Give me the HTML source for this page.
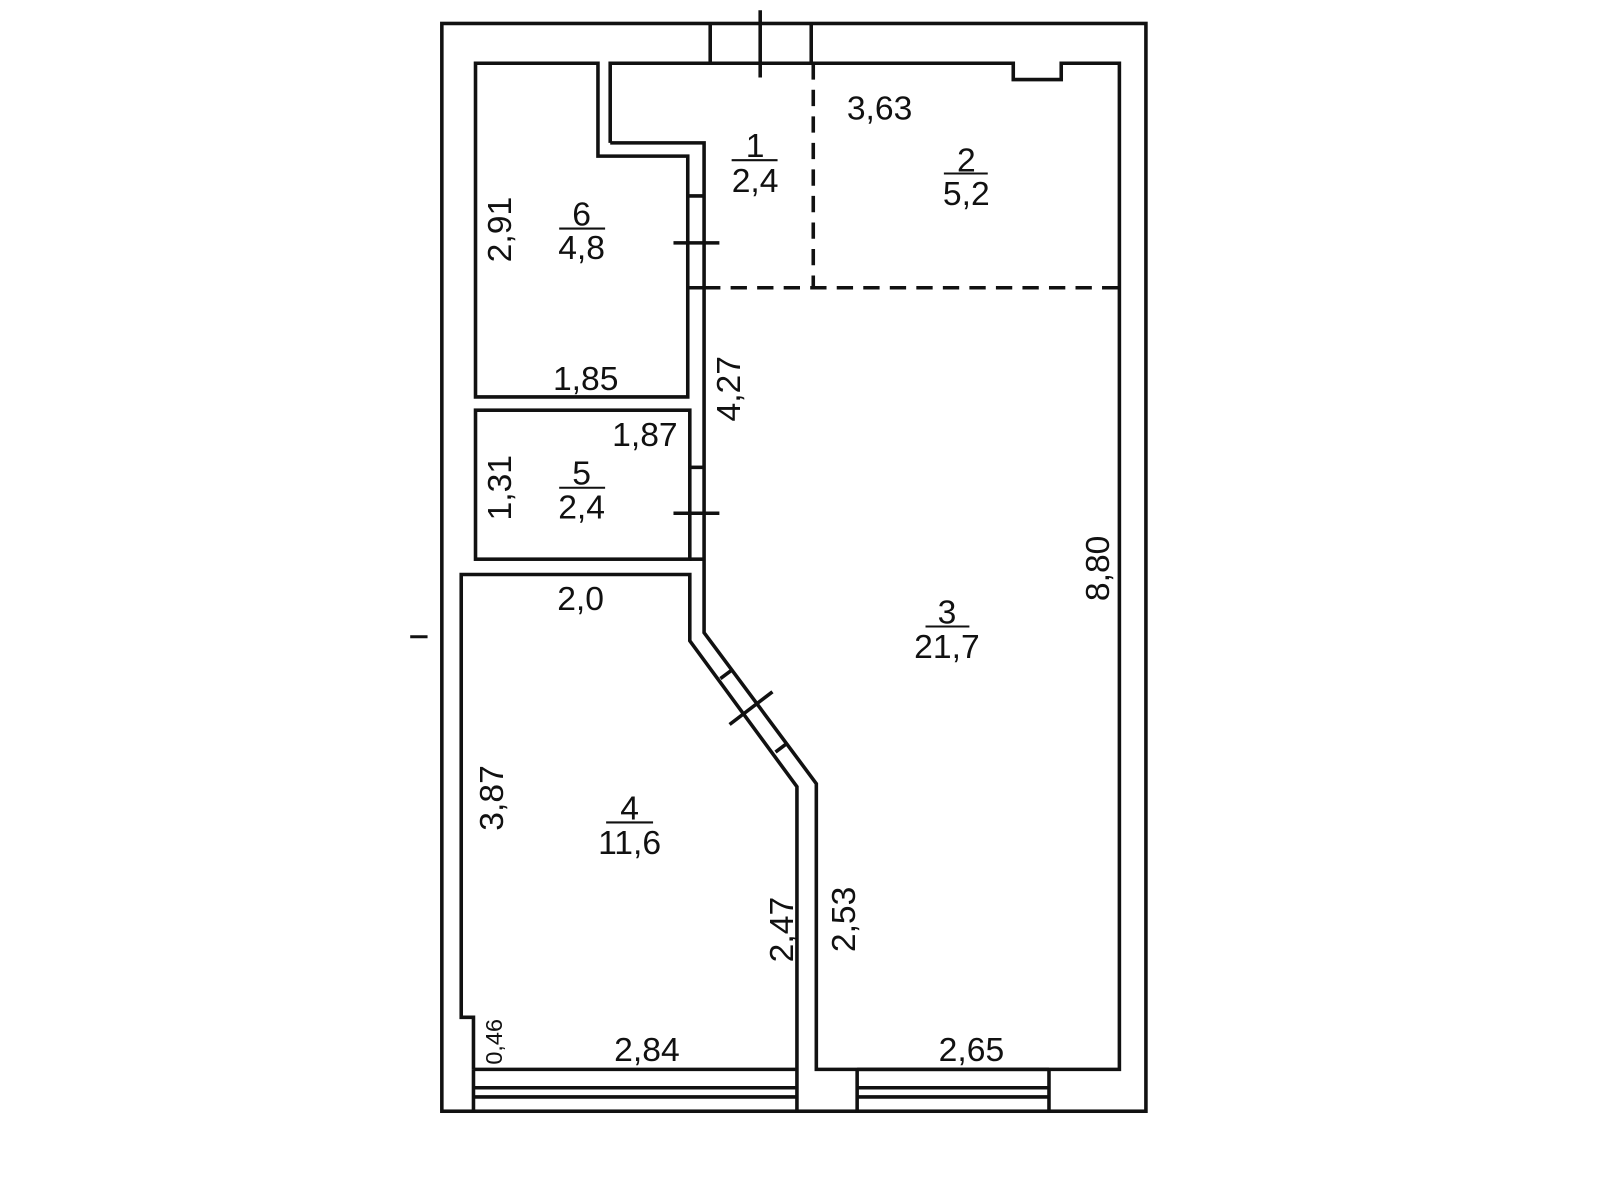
<!DOCTYPE html>
<html><head><meta charset="utf-8"><style>
html,body{margin:0;padding:0;background:#fff;}
svg{display:block;}
text{font-family:"Liberation Sans",sans-serif;font-size:33px;fill:#111;}
</style></head><body>
<svg width="1600" height="1200" viewBox="0 0 1568 1176" xmlns="http://www.w3.org/2000/svg">
<g fill="none" stroke="#111" stroke-width="3.5" stroke-linejoin="miter">
<rect x="433" y="23" width="690" height="1066"/>
<line x1="696" y1="23" x2="696" y2="62"/>
<line x1="795" y1="23" x2="795" y2="62"/>
<line x1="745" y1="10" x2="745" y2="76"/>
<polyline points="598,140 598,62 993,62 993,78 1040,78 1040,62 1097,62 1097,1048 800,1048 800,768 690,620 690,140 598,140"/>
<polygon points="466,62 586,62 586,153 674,153 674,389 466,389"/>
<line x1="674" y1="192" x2="690" y2="192"/>
<line x1="660" y1="238" x2="705" y2="238"/>
<line x1="674" y1="282" x2="690" y2="282"/>
<rect x="466" y="402" width="210" height="146"/>
<line x1="676" y1="548" x2="690" y2="548"/>
<line x1="676" y1="458" x2="690" y2="458"/>
<line x1="660" y1="503" x2="705" y2="503"/>
<polyline points="464,1048 464,997 452,997 452,563 676,563 676,628 781,771 781,1089"/>
<line x1="706" y1="665" x2="718" y2="656"/>
<line x1="760" y1="737" x2="772" y2="728"/>
<line x1="715" y1="710" x2="757" y2="678"/>
<line x1="464" y1="1048" x2="464" y2="1089"/>
<line x1="464" y1="1048" x2="781" y2="1048"/>
<line x1="464" y1="1066" x2="781" y2="1066"/>
<line x1="464" y1="1075" x2="781" y2="1075"/>
<line x1="840" y1="1048" x2="840" y2="1089"/>
<line x1="1028" y1="1048" x2="1028" y2="1089"/>
<line x1="840" y1="1048" x2="1028" y2="1048"/>
<line x1="840" y1="1066" x2="1028" y2="1066"/>
<line x1="840" y1="1075" x2="1028" y2="1075"/>
<line x1="690" y1="282" x2="1097" y2="282" stroke-dasharray="16,10"/>
<line x1="797" y1="62" x2="797" y2="282" stroke-dasharray="16,10"/>
<line x1="402" y1="624" x2="419" y2="624" stroke-width="3"/>
<line x1="717" y1="157" x2="762" y2="157" stroke-width="2"/>
<line x1="925" y1="170" x2="968" y2="170" stroke-width="2"/>
<line x1="548" y1="224" x2="593" y2="224" stroke-width="2"/>
<line x1="548" y1="478" x2="593" y2="478" stroke-width="2"/>
<line x1="907" y1="614" x2="950" y2="614" stroke-width="2"/>
<line x1="594" y1="806" x2="640" y2="806" stroke-width="2"/>
</g>
<g text-anchor="middle">
<text x="740" y="154">1</text><text x="740" y="188">2,4</text>
<text x="947" y="168">2</text><text x="947" y="201">5,2</text>
<text x="570" y="221">6</text><text x="570" y="254">4,8</text>
<text x="570" y="475">5</text><text x="570" y="508">2,4</text>
<text x="928" y="611">3</text><text x="928" y="645">21,7</text>
<text x="617" y="803">4</text><text x="617" y="837">11,6</text>
<text x="862" y="117">3,63</text>
<text x="574" y="382">1,85</text>
<text x="632" y="437">1,87</text>
<text x="569" y="598">2,0</text>
<text x="634" y="1040">2,84</text>
<text x="952" y="1040">2,65</text>
<text transform="translate(501,225) rotate(-90)">2,91</text>
<text transform="translate(501,478) rotate(-90)">1,31</text>
<text transform="translate(725,381) rotate(-90)">4,27</text>
<text transform="translate(1087,557) rotate(-90)">8,80</text>
<text transform="translate(493,782) rotate(-90)">3,87</text>
<text transform="translate(777,911) rotate(-90)">2,47</text>
<text transform="translate(838,901) rotate(-90)">2,53</text>
<text transform="translate(492,1021) rotate(-90)" style="font-size:23px">0,46</text>
</g>
</svg>
</body></html>
